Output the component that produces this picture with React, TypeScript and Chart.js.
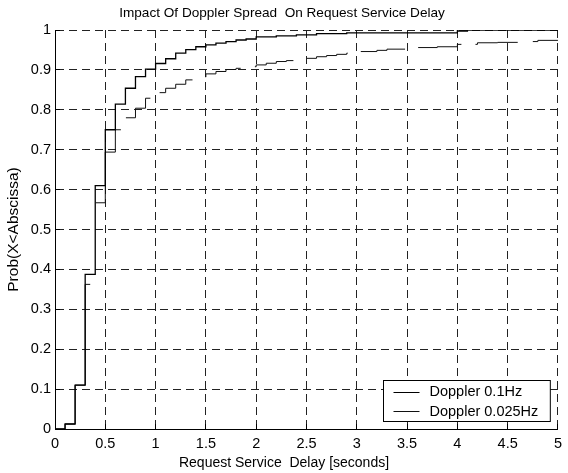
import React, { useEffect, useRef } from 'react';
import { Chart, registerables } from 'chart.js';

Chart.register(...registerables);

const TITLE = 'Impact Of Doppler Spread  On Request Service Delay';
const X_LABEL = 'Request Service  Delay [seconds]';
const Y_LABEL = 'Prob(X<Abscissa)';
const SERIES_NAMES = ['Doppler 0.1Hz', 'Doppler 0.025Hz'];

const X_MIN = 0;
const X_MAX = 5;
const xTickLabels = ['0', '0.5', '1', '1.5', '2', '2.5', '3', '3.5', '4', '4.5', '5'];
const yTickLabels = ['0', '0.1', '0.2', '0.3', '0.4', '0.5', '0.6', '0.7', '0.8', '0.9', '1'];

// Doppler 0.1Hz : empirical CDF jump locations (s) and CDF value after each jump
const fastJumpX = [0.1, 0.2, 0.3, 0.4, 0.5, 0.6, 0.7, 0.8, 0.9, 1.0, 1.1, 1.2, 1.3, 1.4, 1.5, 1.6, 1.7, 1.8, 1.9, 2.0, 2.2, 2.4, 2.6, 2.9, 4.0, 4.1];
const fastJumpY = [0.0125, 0.11, 0.3875, 0.61, 0.75, 0.814, 0.854, 0.883, 0.902, 0.916, 0.928, 0.942, 0.951, 0.958, 0.9625, 0.967, 0.971, 0.975, 0.9775, 0.983, 0.9855, 0.988, 0.991, 0.993, 0.9975, 1.0];

// Doppler 0.025Hz
const slowJumpX = [0.1, 0.2, 0.3, 0.4, 0.5, 0.6, 0.7, 0.8, 0.9, 1.0, 1.1, 1.2, 1.3, 1.4, 1.5, 1.6, 1.7, 1.8, 1.9, 2.0, 2.1, 2.2, 2.3, 2.4, 2.5, 2.6, 2.7, 2.8, 2.9, 3.0, 3.2, 3.3, 3.5, 3.6, 3.8, 4.0, 4.2, 4.4, 4.7, 4.8];
const slowJumpY = [0.0125, 0.11, 0.3625, 0.567, 0.694, 0.75, 0.78, 0.804, 0.829, 0.843, 0.854, 0.864, 0.875, 0.882, 0.89, 0.896, 0.901, 0.904, 0.908, 0.9125, 0.9167, 0.921, 0.9233, 0.926, 0.929, 0.933, 0.936, 0.939, 0.942, 0.946, 0.949, 0.952, 0.954, 0.956, 0.958, 0.964, 0.968, 0.969, 0.971, 0.974];
// x-intervals where the 0.025Hz trace is broken in the original plot
const slowGapStart = [0.35, 0.655, 0.948, 1.367, 1.846, 2.37, 2.91, 3.48, 4.04, 4.6];
const slowGapEnd = [0.405, 0.705, 1.04, 1.497, 1.987, 2.505, 3.04, 3.61, 4.18, 4.75];

type Pt = { x: number; y: number | null };

function cdfPoints(jx: number[], jy: number[], gs: number[] = [], ge: number[] = []): Pt[] {
  type Ev = { x: number; kind: number; y?: number; end?: number };
  const evs: Ev[] = [];
  jx.forEach((x, i) => evs.push({ x, kind: 1, y: jy[i] }));
  gs.forEach((x, i) => evs.push({ x, kind: 0, end: ge[i] }));
  ge.forEach((x) => evs.push({ x, kind: 2 }));
  evs.sort((a, b) => a.x - b.x);
  const pts: Pt[] = [{ x: X_MIN, y: 0 }];
  let cur = 0;
  let inGap = false;
  for (const e of evs) {
    if (e.kind === 1) {
      cur = e.y as number;
      if (!inGap) pts.push({ x: e.x, y: cur });
    } else if (e.kind === 0) {
      pts.push({ x: e.x, y: cur });
      pts.push({ x: (e.x + (e.end as number)) / 2, y: null });
      inGap = true;
    } else {
      inGap = false;
      pts.push({ x: e.x, y: cur });
    }
  }
  pts.push({ x: X_MAX, y: cur });
  return pts;
}

const FONT = '"Liberation Sans", Arial, Helvetica, sans-serif';
const FS = 14.5;
const TITLE_FS = 13.6;
const XLABEL_FS = 14;
const YLABEL_FS = 15.5;

const align = (p: number) => Math.round(p - 0.5) + 0.5;

const decorPlugin = {
  id: 'decor',
  afterDatasetsDraw(chart: any) {
    const { ctx, chartArea, scales } = chart;
    const { left, right, bottom } = chartArea;
    const xs = scales.x;
    const ys = scales.y;
    ctx.save();
    ctx.setLineDash([]);
    ctx.strokeStyle = '#000';
    ctx.lineWidth = 1;
    ctx.beginPath();
    xs.ticks.forEach((t: any) => {
      const px = align(xs.getPixelForValue(t.value));
      ctx.moveTo(px, bottom);
      ctx.lineTo(px, bottom - 5);
    });
    ys.ticks.forEach((t: any) => {
      const py = align(ys.getPixelForValue(t.value));
      ctx.moveTo(left, py);
      ctx.lineTo(left + 5, py);
    });
    ctx.stroke();

    // x axis label, centred on the figure as in the original
    ctx.fillStyle = '#000';
    ctx.font = `${XLABEL_FS}px ${FONT}`;
    ctx.textAlign = 'center';
    ctx.textBaseline = 'middle';
    ctx.fillText(X_LABEL, chart.width / 2, 463);

    // legend box
    ctx.font = `${FS}px ${FONT}`;
    const names = chart.data.datasets.map((d: any) => d.label);
    const tw = Math.max(...names.map((n: string) => ctx.measureText(n).width));
    const padL = 10, lineLen = 26, gap = 10, padR = 12, h = 41;
    const w = padL + lineLen + gap + tw + padR;
    const bx = Math.round(right - 8 - w) + 0.5;
    const by = Math.round(bottom - 8 - h) + 0.5;
    ctx.fillStyle = '#fff';
    ctx.fillRect(bx, by, w, h);
    ctx.strokeStyle = '#000';
    ctx.lineWidth = 1;
    ctx.strokeRect(bx, by, w, h);
    chart.data.datasets.forEach((d: any, i: number) => {
      const cy = by + 11 + i * 19.7;
      ctx.strokeStyle = d.borderColor;
      ctx.lineWidth = 1;
      ctx.beginPath();
      ctx.moveTo(bx + padL, Math.round(cy) + 0.5);
      ctx.lineTo(bx + padL + lineLen, Math.round(cy) + 0.5);
      ctx.stroke();
      ctx.fillStyle = '#000';
      ctx.textAlign = 'left';
      ctx.textBaseline = 'middle';
      ctx.fillText(d.label, bx + padL + lineLen + gap, cy + 0.5);
    });
    ctx.restore();
  },
};

export default function App() {
  const ref = useRef<HTMLCanvasElement | null>(null);
  useEffect(() => {
    if (!ref.current) return;
    Chart.defaults.font.family = FONT;
    Chart.defaults.color = '#000';
    const chart = new Chart(ref.current, {
      type: 'line',
      data: {
        datasets: [
          {
            label: SERIES_NAMES[0],
            data: cdfPoints(fastJumpX, fastJumpY) as any,
            borderColor: '#000',
            borderWidth: 1.3,
            pointRadius: 0,
            stepped: 'before',
            spanGaps: false,
            fill: false,
          },
          {
            label: SERIES_NAMES[1],
            data: cdfPoints(slowJumpX, slowJumpY, slowGapStart, slowGapEnd) as any,
            borderColor: '#111',
            borderWidth: 1,
            pointRadius: 0,
            stepped: 'before',
            spanGaps: false,
            fill: false,
          },
        ],
      },
      options: {
        animation: false,
        responsive: false,
        maintainAspectRatio: false,
        devicePixelRatio: 1,
        events: [],
        layout: { padding: { top: 0, right: 4, bottom: 0, left: 0 } },
        plugins: {
          legend: { display: false },
          tooltip: { enabled: false },
          title: {
            display: true,
            text: TITLE,
            fullSize: true,
            color: '#000',
            font: { family: FONT, size: TITLE_FS, weight: 'normal', lineHeight: 1.2 },
            padding: { top: 5.5, bottom: 8.18 },
          },
        },
        scales: {
          x: {
            type: 'linear',
            min: X_MIN,
            max: X_MAX,
            afterFit: (s: any) => { s.height = 44; },
            ticks: {
              stepSize: 0.5,
              padding: 6,
              color: '#000',
              maxRotation: 0,
              autoSkip: false,
              font: { family: FONT, size: FS },
              callback: (_v: any, i: number) => xTickLabels[i],
            },
            grid: { color: '#222', lineWidth: 1, drawTicks: false },
            border: { display: true, color: '#000', width: 1, dash: [8, 5] },
            title: { display: false },
          },
          y: {
            type: 'linear',
            min: 0,
            max: 1,
            afterFit: (s: any) => { s.width = 55; },
            ticks: {
              stepSize: 0.1,
              padding: 4,
              color: '#000',
              autoSkip: false,
              font: { family: FONT, size: FS },
              callback: (_v: any, i: number) => yTickLabels[i],
            },
            grid: { color: '#222', lineWidth: 1, drawTicks: false },
            border: { display: true, color: '#000', width: 1, dash: [8, 5] },
            title: {
              display: true,
              text: Y_LABEL,
              color: '#000',
              font: { family: FONT, size: YLABEL_FS },
              padding: { top: 4.5, bottom: 0 },
            },
          },
        },
      } as any,
      plugins: [decorPlugin],
    });
    return () => chart.destroy();
  }, []);
  return (
    <div style={{ position: 'absolute', left: 0, top: 0, width: 568, height: 473, background: '#fff' }}>
      <canvas ref={ref} width={568} height={473} style={{ display: 'block', width: 568, height: 473 }} />
    </div>
  );
}
